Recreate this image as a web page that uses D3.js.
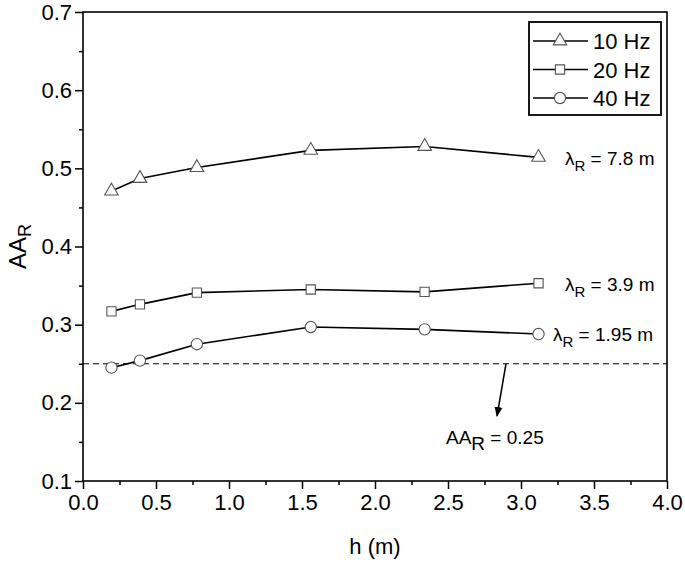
<!DOCTYPE html>
<html><head><meta charset="utf-8">
<script src="https://cdn.jsdelivr.net/npm/d3@7"></script>
<style>body{margin:0;background:#fff}svg{display:block}text{font-family:"Liberation Sans",Arial,sans-serif;fill:#000}</style>
</head><body>
<svg id="c" width="685" height="563"></svg>
<script>
const hValues = [0.195, 0.39, 0.78, 1.56, 2.34, 3.12];
const aa10Hz = [0.471, 0.487, 0.501, 0.523, 0.528, 0.514];
const aa20Hz = [0.317, 0.326, 0.341, 0.345, 0.342, 0.353];
const aa40Hz = [0.245, 0.254, 0.275, 0.297, 0.294, 0.288];
const seriesNames = ["10 Hz", "20 Hz", "40 Hz"];
const seriesLambda = ["7.8 m", "3.9 m", "1.95 m"];
const xTicks = [0, 0.5, 1, 1.5, 2, 2.5, 3, 3.5, 4];
const yTicks = [0.1, 0.2, 0.3, 0.4, 0.5, 0.6, 0.7];
const threshold = 0.25;

const svg = d3.select("#c");
const L = 83, R = 667, T = 12, B = 481;
const x = d3.scaleLinear().domain([0, 4]).range([L, R]);
const y = d3.scaleLinear().domain([0.1, 0.7]).range([B, T]);

const xAxis = d3.axisBottom(x).tickValues(xTicks).tickSize(8).tickPadding(5).tickFormat(d3.format(".1f"));
const xMinor = d3.axisBottom(x).tickValues(d3.range(0.25, 4, 0.5)).tickSize(4).tickFormat("");
const yAxis = d3.axisLeft(y).tickValues(yTicks).tickSize(8).tickPadding(3).tickFormat(d3.format(".1f"));
const yMinor = d3.axisLeft(y).tickValues(d3.range(0.15, 0.7, 0.1)).tickSize(4).tickFormat("");

function styleAxis(g){
  g.select(".domain").remove();
  g.selectAll("line").attr("stroke","#000").attr("stroke-width",1.5);
  g.selectAll("text").attr("font-size",22).attr("font-family",'"Liberation Sans",Arial,sans-serif').attr("fill","#000");
}
svg.append("g").attr("transform",`translate(0,${B})`).call(xAxis).call(styleAxis);
svg.append("g").attr("transform",`translate(0,${B})`).call(xMinor).call(styleAxis);
svg.append("g").attr("transform",`translate(${L},0)`).call(yAxis).call(styleAxis);
svg.append("g").attr("transform",`translate(${L},0)`).call(yMinor).call(styleAxis);

svg.append("rect").attr("x",L).attr("y",T).attr("width",R-L).attr("height",B-T)
  .attr("fill","none").attr("stroke","#000").attr("stroke-width",1.6);

svg.append("text").attr("x",(L+R)/2).attr("y",554).attr("text-anchor","middle").attr("font-size",22).text("h (m)");
const yt = svg.append("text").attr("transform",`translate(26,${(T+B)/2}) rotate(-90)`).attr("text-anchor","middle").attr("font-size",24);
yt.append("tspan").text("AA");
yt.append("tspan").attr("font-size",18).attr("dy",5).text("R");

svg.append("line").attr("x1",L).attr("x2",R).attr("y1",y(threshold)).attr("y2",y(threshold))
  .attr("stroke","#000").attr("stroke-width",1.1).attr("stroke-dasharray","6,4");

const series = [aa10Hz, aa20Hz, aa40Hz];
const shapes = [d3.symbolTriangle, d3.symbolSquare, d3.symbolCircle];
const sizes = [80, 85, 100];
const line = d3.line().x((d,i)=>x(hValues[i])).y(d=>y(d));
series.forEach((vals,k)=>{
  svg.append("path").attr("d",line(vals)).attr("fill","none").attr("stroke","#000").attr("stroke-width",1.6);
  svg.selectAll(null).data(vals).enter().append("path")
    .attr("d",d3.symbol().type(shapes[k]).size(sizes[k]))
    .attr("transform",(d,i)=>`translate(${x(hValues[i])},${y(d)})`)
    .attr("fill","#fff").attr("stroke","#555").attr("stroke-width",1.1);
});

const lamPos = [[565,165],[565,291],[553,341]];
seriesLambda.forEach((t,k)=>{
  const tx = svg.append("text").attr("x",lamPos[k][0]).attr("y",lamPos[k][1]).attr("font-size",19);
  tx.append("tspan").text("λ");
  tx.append("tspan").attr("font-size",15).attr("dy",6).text("R");
  tx.append("tspan").attr("dy",-6).text(" = " + t);
});

svg.append("defs").append("marker").attr("id","ah").attr("viewBox","0 0 10 10").attr("refX",9).attr("refY",5)
  .attr("markerWidth",10).attr("markerHeight",10).attr("markerUnits","userSpaceOnUse").attr("orient","auto")
  .append("path").attr("d","M0,1 L10,5 L0,9 Z").attr("fill","#000");
svg.append("line").attr("x1",506).attr("y1",y(threshold)).attr("x2",497).attr("y2",416)
  .attr("stroke","#000").attr("stroke-width",1.5).attr("marker-end","url(#ah)");
const al = svg.append("text").attr("x",446).attr("y",444).attr("font-size",19);
al.append("tspan").text("AA");
al.append("tspan").attr("font-size",19).attr("dy",6).text("R");
al.append("tspan").attr("dy",-6).text(" = " + threshold);

const lg = svg.append("g");
lg.append("rect").attr("x",529).attr("y",22).attr("width",132).attr("height",93)
  .attr("fill","#fff").attr("stroke","#000").attr("stroke-width",1.8);
seriesNames.forEach((n,k)=>{
  const cy = 41 + k*28.5;
  lg.append("line").attr("x1",533).attr("x2",588).attr("y1",cy).attr("y2",cy).attr("stroke","#000").attr("stroke-width",1.6);
  lg.append("path").attr("d",d3.symbol().type(shapes[k]).size(sizes[k]))
    .attr("transform",`translate(560,${cy})`).attr("fill","#fff").attr("stroke","#555").attr("stroke-width",1.1);
  lg.append("text").attr("x",593).attr("y",cy+8).attr("font-size",22).text(n);
});
</script>
</body></html>
